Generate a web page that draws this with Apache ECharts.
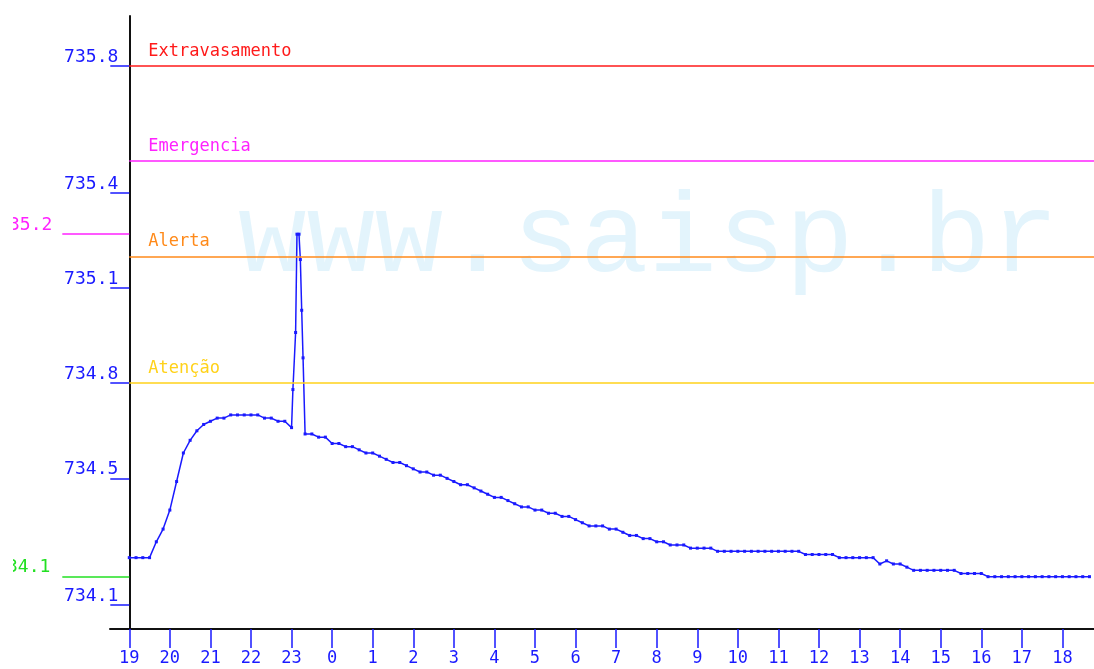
<!DOCTYPE html>
<html>
<head>
<meta charset="utf-8">
<script src="https://cdn.jsdelivr.net/npm/echarts@6/dist/echarts.min.js"></script>
<style>
  html, body { margin: 0; padding: 0; background: #fff; }
  #chart { width: 1094px; height: 669px; }
</style>
</head>
<body>
<div id="chart"></div>
<script>
// minutes after 19:00 (readings every 10 min, denser around the peak)
const minutes = [
  0, 10, 20, 30, 40, 50, 60, 70, 80, 90,
  100, 110, 120, 130, 140, 150, 160, 170, 180, 190,
  200, 210, 220, 230, 240,
  242, 246, 248, 251, 253, 255, 257,
  260, 270, 280, 290, 300, 310, 320, 330, 340, 350,
  360, 370, 380, 390, 400, 410, 420, 430, 440, 450,
  460, 470, 480, 490, 500, 510, 520, 530, 540, 550,
  560, 570, 580, 590, 600, 610, 620, 630, 640, 650,
  660, 670, 680, 690, 700, 710, 720, 730, 740, 750,
  760, 770, 780, 790, 800, 810, 820, 830, 840, 850,
  860, 870, 880, 890, 900, 910, 920, 930, 940, 950,
  960, 970, 980, 990, 1000, 1010, 1020, 1030, 1040, 1050,
  1060, 1070, 1080, 1090, 1100, 1110, 1120, 1130, 1140, 1150,
  1160, 1170, 1180, 1190, 1200, 1210, 1220, 1230, 1240, 1250,
  1260, 1270, 1280, 1290, 1300, 1310, 1320, 1330, 1340, 1350,
  1360, 1370, 1380, 1390, 1400, 1410, 1420
]
const levels = [
  734.25, 734.25, 734.25, 734.25, 734.30, 734.34, 734.40, 734.49, 734.58, 734.62,
  734.65, 734.67, 734.68, 734.69, 734.69, 734.70, 734.70, 734.70, 734.70, 734.70,
  734.69, 734.69, 734.68, 734.68, 734.66,
  734.78, 734.96, 735.27, 735.27, 735.19, 735.03, 734.88,
  734.64, 734.64, 734.63, 734.63, 734.61, 734.61, 734.60, 734.60, 734.59, 734.58,
  734.58, 734.57, 734.56, 734.55, 734.55, 734.54, 734.53, 734.52, 734.52, 734.51,
  734.51, 734.50, 734.49, 734.48, 734.48, 734.47, 734.46, 734.45, 734.44, 734.44,
  734.43, 734.42, 734.41, 734.41, 734.40, 734.40, 734.39, 734.39, 734.38, 734.38,
  734.37, 734.36, 734.35, 734.35, 734.35, 734.34, 734.34, 734.33, 734.32, 734.32,
  734.31, 734.31, 734.30, 734.30, 734.29, 734.29, 734.29, 734.28, 734.28, 734.28,
  734.28, 734.27, 734.27, 734.27, 734.27, 734.27, 734.27, 734.27, 734.27, 734.27,
  734.27, 734.27, 734.27, 734.27, 734.26, 734.26, 734.26, 734.26, 734.26, 734.25,
  734.25, 734.25, 734.25, 734.25, 734.25, 734.23, 734.24, 734.23, 734.23, 734.22,
  734.21, 734.21, 734.21, 734.21, 734.21, 734.21, 734.21, 734.20, 734.20, 734.20,
  734.20, 734.19, 734.19, 734.19, 734.19, 734.19, 734.19, 734.19, 734.19, 734.19,
  734.19, 734.19, 734.19, 734.19, 734.19, 734.19, 734.19
]

const yTicks = [734.1, 734.5, 734.8, 735.1, 735.4, 735.8]
const hourLabels = ['19', '20', '21', '22', '23', '0', '1', '2', '3', '4', '5', '6',
  '7', '8', '9', '10', '11', '12', '13', '14', '15', '16', '17', '18']

const limitNames = ['Extravasamento', 'Emergencia', 'Alerta', 'Atenção']
const limitValues = [735.8, 735.5, 735.2, 734.8]
const limitColors = ['#ff1a1a', '#ff22ff', '#ff8a1a', '#ffd21a']

const hourTicks = hourLabels.map((h, i) => i * 60)
const maxLevel = Math.max(...levels)
const minLevel = Math.min(...levels)

const X_MIN = -28.5
const X_MAX = 1426.7
const Y_MIN = 734.025
const Y_MAX = 735.958
const FONT = 'DejaVu Sans Mono'
const BLUE = '#1a1aff'

const cut1 = v => (Math.floor(v * 10 + 1e-6) / 10).toFixed(1)

function sideAxis(values, color, tickLen, margin, showLine) {
  return {
    type: 'value',
    min: Y_MIN,
    max: Y_MAX,
    position: 'left',
    offset: -19.3,
    axisLine: { show: showLine, onZero: false, lineStyle: { color: '#111', width: 2 } },
    axisTick: { show: true, customValues: values, length: tickLen, lineStyle: { color: color, width: 1.5 } },
    axisLabel: {
      customValues: values,
      margin: margin,
      color: color,
      fontFamily: FONT,
      fontSize: 18,
      verticalAlign: 'bottom',
      lineHeight: 18,
      formatter: cut1
    },
    splitLine: { show: false }
  }
}

const chart = echarts.init(document.getElementById('chart'))
chart.setOption({
  animation: false,
  backgroundColor: '#fff',
  grid: { left: 110, right: 0, top: 16, bottom: 40, outerBoundsMode: 'none', containLabel: false },
  graphic: [
    {
      type: 'text',
      left: 238,
      top: 184,
      z: -10,
      silent: true,
      style: { text: 'www.saisp.br', font: '114px "Liberation Mono"', fill: '#e3f4fc' }
    },
    {
      type: 'rect',
      left: 0,
      top: 0,
      z: 100,
      silent: true,
      shape: { width: 13, height: 640 },
      style: { fill: '#fff' }
    }
  ],
  xAxis: {
    type: 'value',
    min: X_MIN,
    max: X_MAX,
    axisLine: { onZero: false, lineStyle: { color: '#111', width: 2 } },
    axisTick: { customValues: hourTicks, length: 19, lineStyle: { color: BLUE, width: 1.5 } },
    axisLabel: {
      customValues: hourTicks,
      margin: 21,
      color: BLUE,
      fontFamily: FONT,
      fontSize: 17,
      formatter: v => hourLabels[Math.round(v / 60)]
    },
    splitLine: { show: false }
  },
  yAxis: [
    sideAxis(yTicks, BLUE, 19, 11, true),
    sideAxis([maxLevel], '#ff22ff', 67, 77, false),
    sideAxis([minLevel], '#22e022', 67, 79, false)
  ],
  series: [
    {
      type: 'line',
      data: minutes.map((m, i) => [m, levels[i]]),
      symbol: 'rect',
      symbolSize: 3,
      showAllSymbol: true,
      lineStyle: { color: BLUE, width: 1.5 },
      itemStyle: { color: BLUE },
      markLine: {
        silent: true,
        symbol: ['none', 'none'],
        data: limitValues.map((v, i) => [
          {
            xAxis: 0,
            yAxis: v,
            lineStyle: { color: limitColors[i], width: 1.5, type: 'solid' },
            label: {
              show: true,
              position: 'insideStartTop',
              formatter: limitNames[i],
              color: limitColors[i],
              fontFamily: FONT,
              fontSize: 17,
              distance: [19, 6]
            }
          },
          { xAxis: X_MAX, yAxis: v }
        ])
      }
    }
  ]
})
</script>
</body>
</html>
